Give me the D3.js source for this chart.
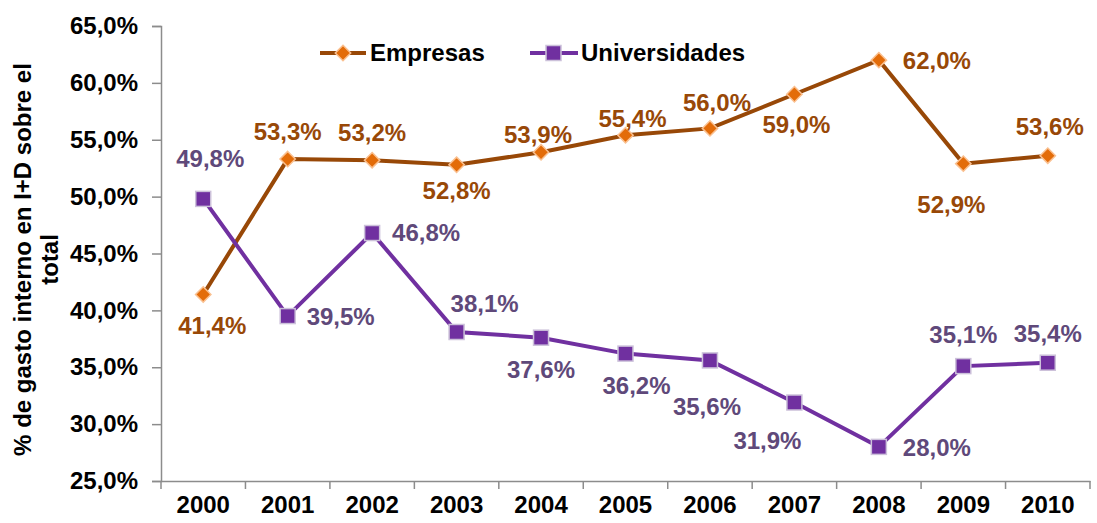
<!DOCTYPE html>
<html>
<head>
<meta charset="utf-8">
<script src="https://cdn.jsdelivr.net/npm/d3@7"></script>
<style>
  body { margin: 0; background: #fff; }
  text { font-family: Arial, "Liberation Sans", sans-serif; font-weight: bold; }
</style>
</head>
<body>
<div id="chart"></div>
<script>
// Data
var years = ['2000', '2001', '2002', '2003', '2004', '2005', '2006', '2007', '2008', '2009', '2010'];
var empresas = [41.4, 53.3, 53.2, 52.8, 53.9, 55.4, 56.0, 59.0, 62.0, 52.9, 53.6];
var universidades = [49.8, 39.5, 46.8, 38.1, 37.6, 36.2, 35.6, 31.9, 28.0, 35.1, 35.4];
var yTicks = [25, 30, 35, 40, 45, 50, 55, 60, 65];

// label offsets (dx, dy) relative to each point
var empresasLabelPos = [[9, 31], [0, -27], [0, -28], [0, 26], [-3, -18], [7, -17], [7, -26], [2, 30], [58, 0], [-12, 41], [2, -29]];
var universidadesLabelPos = [[7, -40], [53, 1], [54, 0], [28, -28], [0, 32], [11, 32], [-3, 46], [-27, 38], [58, 1], [0, -32], [0, -29]];

var width = 1097, height = 523;
var margin = { l: 161, r: 7, t: 26, b: 42 };
var fs = 24;

var svg = d3.select('#chart').append('svg')
    .attr('width', width)
    .attr('height', height);

var x = d3.scaleBand()
    .domain(years)
    .range([margin.l, width - margin.r]);

var y = d3.scaleLinear()
    .domain([25, 65])
    .range([height - margin.b, margin.t]);

var axisColor = '#8c8c8c';

// y axis
var yAxis = svg.append('g')
    .attr('transform', 'translate(' + margin.l + ',0)')
    .call(d3.axisLeft(y).tickValues(yTicks).tickSize(9).tickPadding(14)
        .tickFormat(function(d) { return d3.format('.1f')(d).replace('.', ',') + '%'; }));
yAxis.select('.domain').attr('stroke', axisColor).attr('stroke-width', 1.5);
yAxis.selectAll('.tick line').attr('stroke', axisColor).attr('stroke-width', 1.5);
yAxis.selectAll('.tick text').attr('font-size', fs).attr('fill', '#000')
    .attr('font-family', 'Arial, "Liberation Sans", sans-serif').attr('font-weight', 'bold');

// x axis
var xAxis = svg.append('g')
    .attr('transform', 'translate(0,' + (height - margin.b) + ')')
    .call(d3.axisBottom(x).tickSize(0).tickPadding(15));
xAxis.select('.domain').attr('stroke', axisColor).attr('stroke-width', 1.5);
xAxis.selectAll('.tick text').attr('font-size', fs).attr('fill', '#000')
    .attr('font-family', 'Arial, "Liberation Sans", sans-serif').attr('font-weight', 'bold');

// x ticks between categories
svg.append('g').selectAll('line')
    .data(years.concat(['end']))
    .enter()
    .append('line')
    .attr('x1', function(d, i) { return margin.l + i * x.step(); })
    .attr('x2', function(d, i) { return margin.l + i * x.step(); })
    .attr('y1', height - margin.b)
    .attr('y2', height - margin.b + 8)
    .attr('stroke', axisColor)
    .attr('stroke-width', 1.5);

// y axis title
var yTitle = svg.append('text')
    .attr('transform', 'translate(31,' + ((margin.t + height - margin.b) / 2 + 6) + ') rotate(-90)')
    .attr('text-anchor', 'middle')
    .attr('font-size', fs)
    .attr('fill', '#000');
yTitle.append('tspan').attr('x', 0).attr('dy', 0).text('% de gasto interno en I+D sobre el');
yTitle.append('tspan').attr('x', 0).attr('dy', 27).text('total');

function cx(i) { return x(years[i]) + x.bandwidth() / 2; }

var line = d3.line()
    .x(function(d, i) { return cx(i); })
    .y(function(d) { return y(d); });

var fmt = function(d) { return d3.format('.1f')(d).replace('.', ',') + '%'; };

// Empresas
svg.append('path')
    .datum(empresas)
    .attr('d', line)
    .attr('fill', 'none')
    .attr('stroke', '#984807')
    .attr('stroke-width', 4);

svg.append('g').selectAll('path')
    .data(empresas)
    .enter()
    .append('path')
    .attr('d', d3.symbol().type(d3.symbolDiamond2).size(150))
    .attr('transform', function(d, i) { return 'translate(' + cx(i) + ',' + y(d) + ')'; })
    .attr('fill', '#E36C09')
    .attr('stroke', '#FAC090')
    .attr('stroke-width', 1.5);

// Universidades
svg.append('path')
    .datum(universidades)
    .attr('d', line)
    .attr('fill', 'none')
    .attr('stroke', '#7030A0')
    .attr('stroke-width', 4);

svg.append('g').selectAll('rect')
    .data(universidades)
    .enter()
    .append('rect')
    .attr('x', function(d, i) { return cx(i) - 7.5; })
    .attr('y', function(d) { return y(d) - 7.5; })
    .attr('width', 15)
    .attr('height', 15)
    .attr('fill', '#7030A0')
    .attr('stroke', '#CCC1DA')
    .attr('stroke-width', 1.5);

// data labels
svg.append('g').selectAll('text')
    .data(empresas)
    .enter()
    .append('text')
    .attr('x', function(d, i) { return cx(i) + empresasLabelPos[i][0]; })
    .attr('y', function(d, i) { return y(d) + empresasLabelPos[i][1]; })
    .attr('dy', '0.35em')
    .attr('text-anchor', 'middle')
    .attr('font-size', fs)
    .attr('fill', '#984807')
    .text(fmt);

svg.append('g').selectAll('text')
    .data(universidades)
    .enter()
    .append('text')
    .attr('x', function(d, i) { return cx(i) + universidadesLabelPos[i][0]; })
    .attr('y', function(d, i) { return y(d) + universidadesLabelPos[i][1]; })
    .attr('dy', '0.35em')
    .attr('text-anchor', 'middle')
    .attr('font-size', fs)
    .attr('fill', '#5F497A')
    .text(fmt);

// legend
var legend = svg.append('g').attr('transform', 'translate(0,53)');
legend.append('line').attr('x1', 320).attr('x2', 366).attr('y1', 0).attr('y2', 0)
    .attr('stroke', '#984807').attr('stroke-width', 4);
legend.append('path')
    .attr('d', d3.symbol().type(d3.symbolDiamond2).size(150))
    .attr('transform', 'translate(343,0)')
    .attr('fill', '#E36C09').attr('stroke', '#FAC090').attr('stroke-width', 1.5);
legend.append('text').attr('x', 370).attr('y', 0).attr('dy', '0.35em')
    .attr('font-size', fs).attr('fill', '#000').text('Empresas');

legend.append('line').attr('x1', 530).attr('x2', 578).attr('y1', 0).attr('y2', 0)
    .attr('stroke', '#7030A0').attr('stroke-width', 4);
legend.append('rect').attr('x', 546).attr('y', -7.5).attr('width', 15).attr('height', 15)
    .attr('fill', '#7030A0').attr('stroke', '#CCC1DA').attr('stroke-width', 1.5);
legend.append('text').attr('x', 581).attr('y', 0).attr('dy', '0.35em')
    .attr('font-size', fs).attr('fill', '#000').text('Universidades');
</script>
</body>
</html>
